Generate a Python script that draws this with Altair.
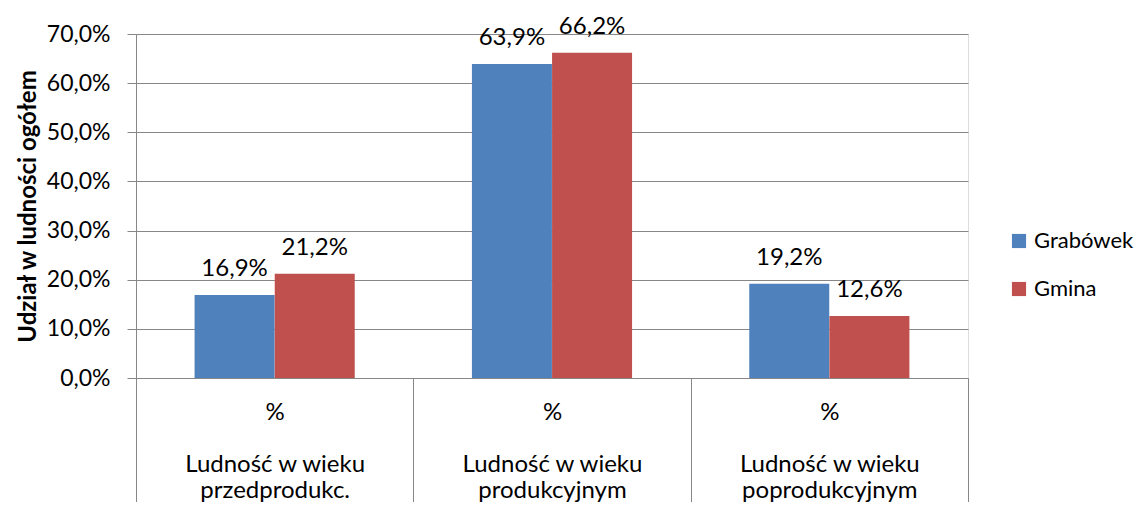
import altair as alt
import pandas as pd

categories = ["Ludność w wieku\nprzedprodukc.", "Ludność w wieku\nprodukcyjnym", "Ludność w wieku\npoprodukcyjnym"]
series = ["Grabówek", "Gmina"]
grabowek = [0.169, 0.639, 0.192]
gmina = [0.212, 0.662, 0.126]
colors = ["#4F81BD", "#C0504D"]

rows = []
for i, c in enumerate(categories):
    rows.append({"kat": c, "seria": series[0], "val": grabowek[i]})
    rows.append({"kat": c, "seria": series[1], "val": gmina[i]})
df = pd.DataFrame(rows)

FONT = "Lato"
GRID = "#878787"

x = alt.X("kat:N", sort=categories, title=None,
          scale=alt.Scale(paddingInner=0, paddingOuter=0),
          axis=alt.Axis(labelExpr="datum.label ? split('%\\n\u2800\\n' + datum.label, '\\n') : ''",
                        labelAngle=0, labelFontSize=24, labelFont=FONT, labelColor="#000000",
                        labelLineHeight=26, labelBaseline="top", labelLimit=0,
                        ticks=True, tickBand="extent", tickSize=132, tickColor=GRID, tickWidth=1,
                        labelPadding=-110, domain=True, domainColor=GRID, grid=False))
xo = alt.XOffset("seria:N", sort=series, scale=alt.Scale(paddingOuter=0.73, paddingInner=0))
y = alt.Y("val:Q", title="Udział w ludności ogółem",
          scale=alt.Scale(domain=[0, 0.7], nice=False),
          axis=alt.Axis(values=[0, 0.1, 0.2, 0.3, 0.4, 0.5, 0.6, 0.7],
                        labelExpr="replace(format(datum.value, '.1%'), '.', ',')",
                        labelFontSize=23, labelFont=FONT, labelColor="#000000", labelPadding=17,
                        tickSize=9, tickColor=GRID, domainColor=GRID, gridColor=GRID,
                        titleFont=FONT, titleFontSize=24, titleFontWeight="bold",
                        titleColor="#000000", titlePadding=6))

bars = alt.Chart(df).mark_bar(size=80).encode(
    x=x, xOffset=xo, y=y,
    color=alt.Color("seria:N", sort=series, title=None,
                    scale=alt.Scale(domain=series, range=colors),
                    legend=alt.Legend(orient="none", legendX=872, legendY=196,
                                      symbolType="square", symbolSize=200, symbolStrokeWidth=0,
                                      labelFontSize=22, labelFont=FONT, labelColor="#000000",
                                      labelLimit=0, rowPadding=26, padding=0, labelOffset=4))
)

labels = alt.Chart(df).mark_text(baseline="middle", dy=-26, fontSize=24, font=FONT, color="#000000").encode(
    x=x, xOffset=xo, y=y,
    text=alt.Text("lbl:N")
).transform_calculate(lbl="replace(format(datum.val, '.1%'), '.', ',')")

chart = alt.layer(bars, labels).properties(
    width=832, height=344,
    autosize=alt.AutoSizeParams(type="none"),
    padding={"left": 128, "top": 26, "right": 170, "bottom": 124},
).configure_view(stroke=None).configure(background="#ffffff")

chart.save("out.html", embed_options={"renderer": "svg", "actions": False})
